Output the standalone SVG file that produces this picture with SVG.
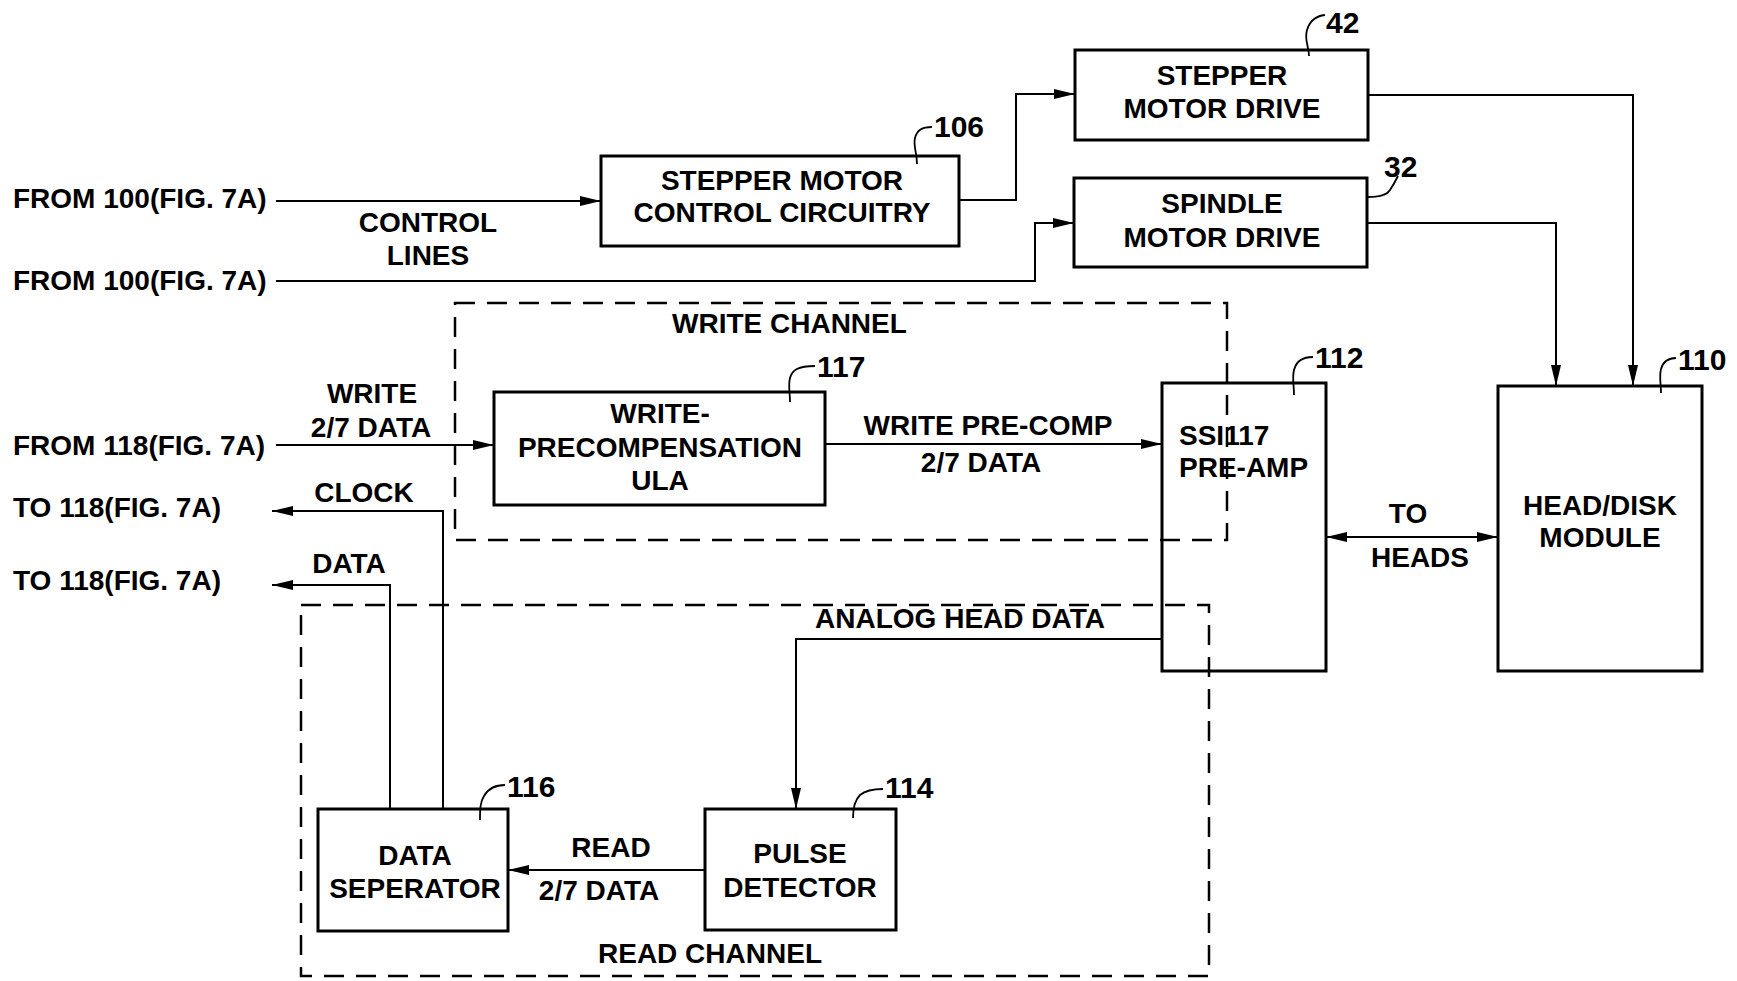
<svg xmlns="http://www.w3.org/2000/svg" width="1737" height="981" viewBox="0 0 1737 981">
<style>
text{font-family:"Liberation Sans",Arial,sans-serif;font-weight:bold;font-size:28px;fill:#000}
.c{text-anchor:middle}
.ref{font-size:30px}
.box{fill:none;stroke:#000;stroke-width:3}
.dash{fill:none;stroke:#000;stroke-width:2.5;stroke-dasharray:20 12}
.wire{fill:none;stroke:#000;stroke-width:2}
.lead{fill:none;stroke:#000;stroke-width:1.8}
</style>
<defs>
<marker id="ah" markerUnits="userSpaceOnUse" markerWidth="22" markerHeight="10" refX="21" refY="5" orient="auto-start-reverse">
<path d="M0,0 L21,5 L0,10 z" fill="#000"/>
</marker>
</defs>
<rect width="1737" height="981" fill="#fff"/>

<g id="write-channel">
<rect class="dash" x="455" y="303" width="772" height="237"/>
<text x="672" y="333">WRITE CHANNEL</text>
</g>
<g id="read-channel">
<rect class="dash" x="301" y="605" width="908" height="371"/>
<text x="598" y="963">READ CHANNEL</text>
</g>

<g id="connectors">
<path class="wire" d="M276,201 H601" marker-end="url(#ah)"/>
<path class="wire" d="M276,281 H1035 V223 H1074" marker-end="url(#ah)"/>
<path class="wire" d="M959,200 H1016 V94 H1075" marker-end="url(#ah)"/>
<path class="wire" d="M1368,95 H1633 V386" marker-end="url(#ah)"/>
<path class="wire" d="M1367,223 H1556 V386" marker-end="url(#ah)"/>
<path class="wire" d="M276,445 H494" marker-end="url(#ah)"/>
<path class="wire" d="M825,444 H1162" marker-end="url(#ah)"/>
<path class="wire" d="M1326,537 H1498" marker-start="url(#ah)" marker-end="url(#ah)"/>
<path class="wire" d="M1162,639 H796 V809" marker-end="url(#ah)"/>
<path class="wire" d="M705,870 H508" marker-end="url(#ah)"/>
<path class="wire" d="M443,809 V511 H272" marker-end="url(#ah)"/>
<path class="wire" d="M390,809 V585 H272" marker-end="url(#ah)"/>
<text x="13" y="208">FROM 100(FIG. 7A)</text>
<text x="13" y="290">FROM 100(FIG. 7A)</text>
<text x="13" y="455">FROM 118(FIG. 7A)</text>
<text x="13" y="517">TO 118(FIG. 7A)</text>
<text x="13" y="590">TO 118(FIG. 7A)</text>
<text class="c" x="428" y="232">CONTROL</text>
<text class="c" x="428" y="265">LINES</text>
<text class="c" x="372" y="403">WRITE</text>
<text class="c" x="371" y="437">2/7 DATA</text>
<text class="c" x="364" y="502">CLOCK</text>
<text class="c" x="349" y="573">DATA</text>
<text class="c" x="988" y="435">WRITE PRE-COMP</text>
<text class="c" x="981" y="472">2/7 DATA</text>
<text class="c" x="1408" y="523">TO</text>
<text class="c" x="1420" y="567">HEADS</text>
<text class="c" x="960" y="628">ANALOG HEAD DATA</text>
<text class="c" x="611" y="857">READ</text>
<text class="c" x="599" y="900">2/7 DATA</text>
</g>

<g id="n106">
<rect class="box" x="601" y="156" width="358" height="90"/>
<text class="c" x="782" y="190">STEPPER MOTOR</text>
<text class="c" x="782" y="222">CONTROL CIRCUITRY</text>
<path class="lead" d="M917,164 C917,152 913,146 915,138 C917,130 922,127 932,127"/>
<text class="ref" x="934" y="137">106</text>
</g>

<g id="n42">
<rect class="box" x="1075" y="50" width="293" height="90"/>
<text class="c" x="1222" y="85">STEPPER</text>
<text class="c" x="1222" y="118">MOTOR DRIVE</text>
<path class="lead" d="M1309,56 C1309,46 1304,40 1307,30 C1310,20 1316,16 1325,15"/>
<text class="ref" x="1326" y="33">42</text>
</g>

<g id="n32">
<rect class="box" x="1074" y="178" width="293" height="89"/>
<text class="c" x="1222" y="213">SPINDLE</text>
<text class="c" x="1222" y="247">MOTOR DRIVE</text>
<path class="lead" d="M1368,197 C1378,197 1386,196 1390,190 C1394,184 1396,180 1398,176"/>
<text class="ref" x="1384" y="177">32</text>
</g>

<g id="n117">
<rect class="box" x="494" y="392" width="331" height="113"/>
<text class="c" x="660" y="423">WRITE-</text>
<text class="c" x="660" y="457">PRECOMPENSATION</text>
<text class="c" x="660" y="490">ULA</text>
<path class="lead" d="M790,402 C790,392 788,386 790,378 C792,370 798,366 815,366"/>
<text class="ref" x="817" y="377">117</text>
</g>

<g id="n112">
<rect class="box" x="1162" y="383" width="164" height="288"/>
<text x="1179" y="445">SSI117</text>
<text x="1179" y="477">PRE-AMP</text>
<path class="lead" d="M1294,395 C1294,385 1292,378 1294,370 C1296,362 1302,357 1313,357"/>
<text class="ref" x="1315" y="368">112</text>
</g>

<g id="n110">
<rect class="box" x="1498" y="386" width="204" height="285"/>
<text class="c" x="1600" y="515">HEAD/DISK</text>
<text class="c" x="1600" y="547">MODULE</text>
<path class="lead" d="M1661,393 C1661,383 1659,377 1661,369 C1663,362 1668,358 1676,358"/>
<text class="ref" x="1678" y="370">110</text>
</g>

<g id="n116">
<rect class="box" x="318" y="809" width="190" height="122"/>
<text class="c" x="415" y="865">DATA</text>
<text class="c" x="415" y="898">SEPERATOR</text>
<path class="lead" d="M480,820 C480,810 480,802 484,796 C488,789 496,785 505,785"/>
<text class="ref" x="507" y="797">116</text>
</g>

<g id="n114">
<rect class="box" x="705" y="809" width="191" height="121"/>
<text class="c" x="800" y="863">PULSE</text>
<text class="c" x="800" y="897">DETECTOR</text>
<path class="lead" d="M853,818 C853,808 855,800 860,795 C866,790 874,789 883,789"/>
<text class="ref" x="885" y="798">114</text>
</g>
</svg>
